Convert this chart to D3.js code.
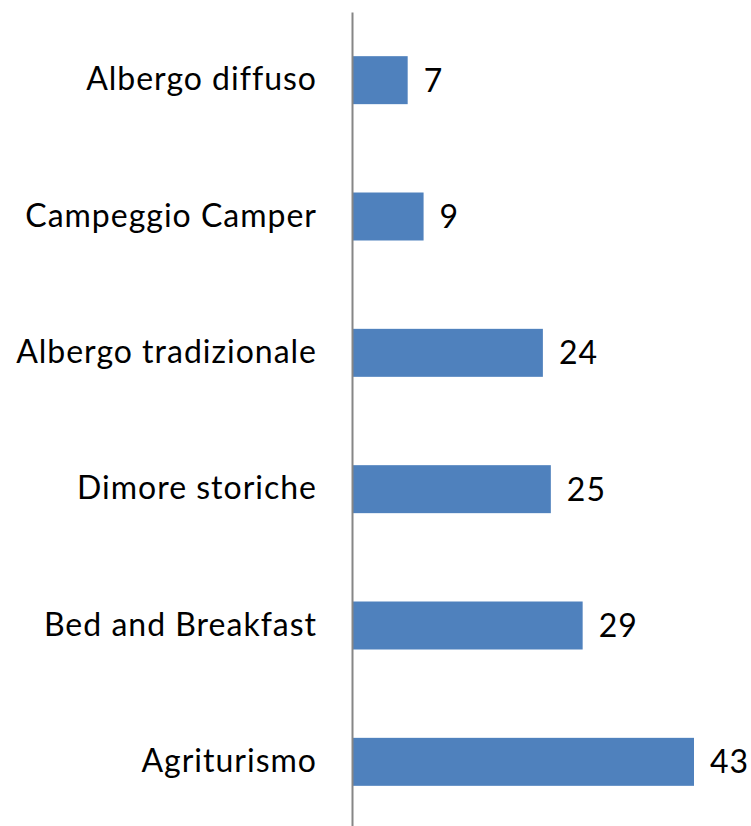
<!DOCTYPE html>
<html>
<head>
<meta charset="utf-8">
<script src="https://cdn.jsdelivr.net/npm/d3@7"></script>
<style>
  body { margin: 0; background: #fff; }
  text { font-family: Lato, "Open Sans", sans-serif; fill: #000; }
</style>
</head>
<body>
<div id="chart"></div>
<script>
// Categories and values (top to bottom)
let categories = ["Albergo diffuso", "Campeggio Camper", "Albergo tradizionale", "Dimore storiche", "Bed and Breakfast", "Agriturismo"];
let values = [7, 9, 24, 25, 29, 43];

let svgWidth = 751;
let svgHeight = 826;

let svg = d3.select("#chart")
  .append("svg")
  .attr("width", svgWidth)
  .attr("height", svgHeight);

// Scales
let xScale = d3.scaleLinear()
  .domain([0, 43])
  .range([352, 694]);

let yScale = d3.scaleBand()
  .domain(categories)
  .range([12, 830])
  .paddingInner(0.648)
  .paddingOuter(0.324);

// Bars
svg.selectAll("rect.bar")
  .data(values)
  .enter()
  .append("rect")
  .attr("class", "bar")
  .attr("x", xScale(0))
  .attr("y", (d, i) => yScale(categories[i]))
  .attr("width", d => xScale(d) - xScale(0))
  .attr("height", yScale.bandwidth())
  .attr("fill", "#4F81BD");

// Value labels
svg.selectAll("text.value")
  .data(values)
  .enter()
  .append("text")
  .attr("class", "value")
  .attr("x", d => xScale(d) + 16)
  .attr("y", (d, i) => yScale(categories[i]) + yScale.bandwidth() / 2)
  .attr("dy", "0.36em")
  .style("font-size", "32px")
  .style("letter-spacing", "1px")
  .text(d => d);

// Category axis (line only, no ticks)
let leftAxis = d3.axisLeft(yScale).tickSize(0).tickPadding(35);
let axisG = svg.append("g")
  .attr("transform", `translate(${xScale(0)}, 0)`)
  .call(leftAxis);
axisG.select(".domain")
  .attr("stroke", "#868686")
  .attr("stroke-width", 2);
axisG.selectAll("text")
  .style("font-size", "32px")
  .style("letter-spacing", "1px")
  .style("font-family", "Lato, 'Open Sans', sans-serif")
  .attr("fill", "#000");
</script>
</body>
</html>
